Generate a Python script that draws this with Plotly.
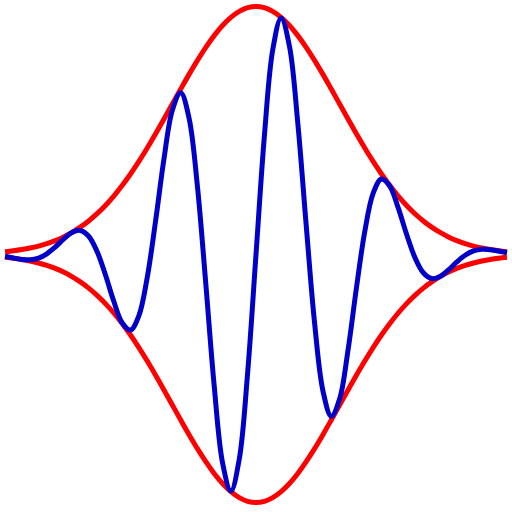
import plotly.graph_objects as go

x_vals = [-3.0, -2.9, -2.8, -2.7, -2.6, -2.5, -2.4, -2.3, -2.2, -2.1,
          -2.0, -1.9, -1.8, -1.7, -1.6, -1.5, -1.4, -1.3, -1.2, -1.1,
          -1.0, -0.9, -0.8, -0.7, -0.6, -0.5, -0.4, -0.3, -0.2, -0.1,
          0.0, 0.1, 0.2, 0.3, 0.4, 0.5, 0.6, 0.7, 0.8, 0.9,
          1.0, 1.1, 1.2, 1.3, 1.4, 1.5, 1.6, 1.7, 1.8, 1.9,
          2.0, 2.1, 2.2, 2.3, 2.4, 2.5, 2.6, 2.7, 2.8, 2.9, 3.0]

envelope_upper = [0.01111, 0.01492, 0.01984, 0.02612, 0.03405, 0.04394, 0.05613, 0.07100, 0.08892, 0.11025,
                  0.13534, 0.16447, 0.19790, 0.23575, 0.27804, 0.32465, 0.37531, 0.42956, 0.48675, 0.54607,
                  0.60653, 0.66698, 0.72615, 0.78270, 0.83527, 0.88250, 0.92312, 0.95600, 0.98020, 0.99501,
                  1.00000, 0.99501, 0.98020, 0.95600, 0.92312, 0.88250, 0.83527, 0.78270, 0.72615, 0.66698,
                  0.60653, 0.54607, 0.48675, 0.42956, 0.37531, 0.32465, 0.27804, 0.23575, 0.19790, 0.16447,
                  0.13534, 0.11025, 0.08892, 0.07100, 0.05613, 0.04394, 0.03405, 0.02612, 0.01984, 0.01492, 0.01111]

envelope_lower = [-0.01111, -0.01492, -0.01984, -0.02612, -0.03405, -0.04394, -0.05613, -0.07100, -0.08892, -0.11025,
                  -0.13534, -0.16447, -0.19790, -0.23575, -0.27804, -0.32465, -0.37531, -0.42956, -0.48675, -0.54607,
                  -0.60653, -0.66698, -0.72615, -0.78270, -0.83527, -0.88250, -0.92312, -0.95600, -0.98020, -0.99501,
                  -1.00000, -0.99501, -0.98020, -0.95600, -0.92312, -0.88250, -0.83527, -0.78270, -0.72615, -0.66698,
                  -0.60653, -0.54607, -0.48675, -0.42956, -0.37531, -0.32465, -0.27804, -0.23575, -0.19790, -0.16447,
                  -0.13534, -0.11025, -0.08892, -0.07100, -0.05613, -0.04394, -0.03405, -0.02612, -0.01984, -0.01492, -0.01111]

wave_packet = [-0.00722, -0.01395, -0.01965, -0.02099, -0.01431, 0.00291, 0.03012, 0.06216, 0.08892, 0.09699,
               0.07363, 0.01236, -0.08156, -0.18824, -0.27508, -0.30452, -0.24658, -0.09241, 0.13601, 0.38528,
               0.58161, 0.65199, 0.54955, 0.27455, -0.11787, -0.52815, -0.83939, -0.95360, -0.82481, -0.47704,
               0.00000, 0.47704, 0.82481, 0.95360, 0.83939, 0.52815, 0.11787, -0.27455, -0.54955, -0.65199,
               -0.58161, -0.38528, -0.13601, 0.09241, 0.24658, 0.30452, 0.27508, 0.18824, 0.08156, -0.01236,
               -0.07363, -0.09699, -0.08892, -0.06216, -0.03012, -0.00291, 0.01431, 0.02099, 0.01965, 0.01395, 0.00722]

RED = "#ff0000"
BLUE = "#0000c8"

fig = go.Figure()
fig.add_trace(go.Scatter(x=x_vals, y=envelope_upper, mode="lines",
                         line=dict(color=RED, width=5, shape="spline"), hoverinfo="skip"))
fig.add_trace(go.Scatter(x=x_vals, y=envelope_lower, mode="lines",
                         line=dict(color=RED, width=5, shape="spline"), hoverinfo="skip"))
fig.add_trace(go.Scatter(x=x_vals, y=wave_packet, mode="lines",
                         line=dict(color=BLUE, width=5, shape="spline"), hoverinfo="skip"))

fig.update_layout(
    width=512, height=512,
    margin=dict(l=0, r=0, t=0, b=0),
    paper_bgcolor="white", plot_bgcolor="white",
    showlegend=False,
    xaxis=dict(range=[-3.06, 3.06], visible=False, fixedrange=True),
    yaxis=dict(range=[-1.038, 1.026], visible=False, fixedrange=True),
)

fig.write_html(
    "out.html",
    config={"displayModeBar": False},
    post_script="document.body.style.margin='0';document.body.style.overflow='hidden';",
)
